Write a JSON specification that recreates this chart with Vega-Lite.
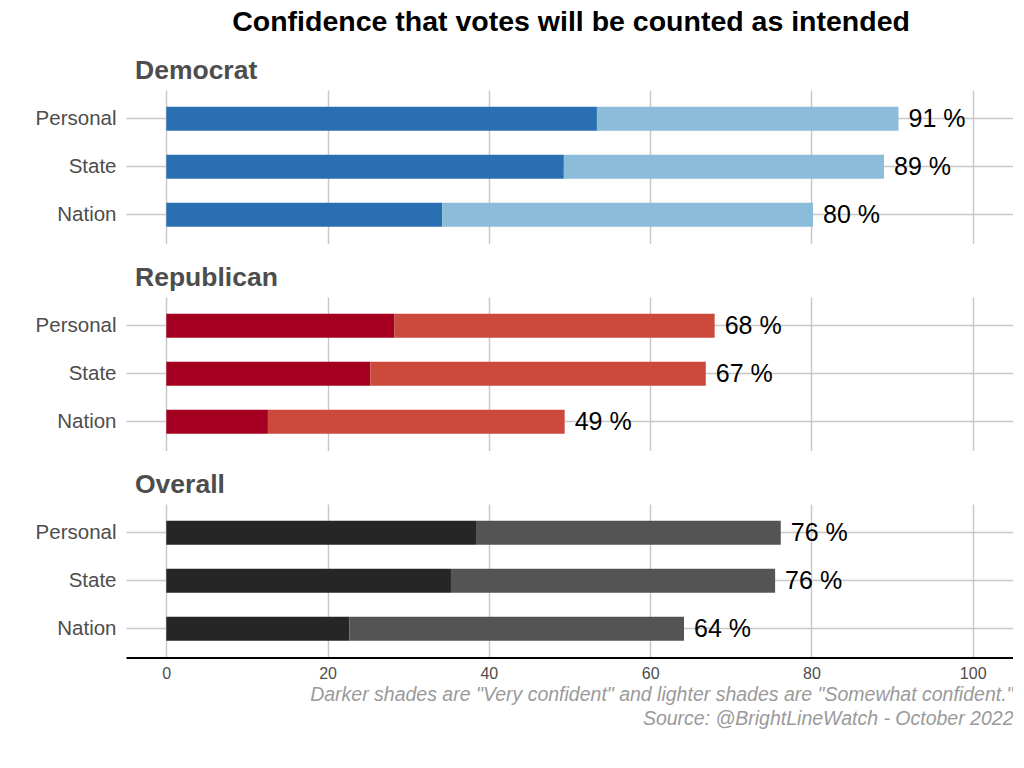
{
  "$schema": "https://vega.github.io/schema/vega-lite/v6.json",
  "background": "white",
  "padding": {"left": 35, "top": 8, "right": 0, "bottom": 0},
  "title": {"text": "Confidence that votes will be counted as intended", "fontSize": 28.5, "fontWeight": "bold", "color": "#000000", "font": "Liberation Sans", "anchor": "middle", "offset": 21, "dx": 47},
  "config": {
    "view": {"stroke": null},
    "font": "Liberation Sans",
    "axis": {"gridColor": "#c8c8c8", "gridWidth": 1.5}
  },
  "data": {"values": [
    {"group": "Democrat", "level": "Personal", "very": 53.4, "total": 90.8, "label": "91 %"},
    {"group": "Democrat", "level": "State", "very": 49.3, "total": 89.0, "label": "89 %"},
    {"group": "Democrat", "level": "Nation", "very": 34.2, "total": 80.2, "label": "80 %"},
    {"group": "Republican", "level": "Personal", "very": 28.3, "total": 68.0, "label": "68 %"},
    {"group": "Republican", "level": "State", "very": 25.3, "total": 66.9, "label": "67 %"},
    {"group": "Republican", "level": "Nation", "very": 12.6, "total": 49.4, "label": "49 %"},
    {"group": "Overall", "level": "Personal", "very": 38.5, "total": 76.2, "label": "76 %"},
    {"group": "Overall", "level": "State", "very": 35.3, "total": 75.5, "label": "76 %"},
    {"group": "Overall", "level": "Nation", "very": 22.7, "total": 64.2, "label": "64 %"}
  ]},
  "spacing": 20,
  "vconcat": [
    {
      "title": {"text": "Democrat", "anchor": "start", "frame": "group", "dx": 9, "fontSize": 26.5, "fontWeight": "bold", "color": "#4d4d4d", "baseline": "alphabetic", "offset": -15},
      "width": 887, "height": 153.6,
      "transform": [{"filter": "datum.group === 'Democrat'"}],
      "encoding": {
        "y": {"field": "level", "type": "nominal", "sort": ["Personal", "State", "Nation"], "title": null,
              "scale": {"paddingInner": 0.5, "paddingOuter": 0.35},
              "axis": {"domain": false, "ticks": false, "grid": true, "labelFontSize": 20.5, "labelColor": "#4d4d4d", "labelPadding": 10}}
      },
      "layer": [
        {"mark": {"type": "bar", "color": "#2a6fb2"},
         "encoding": {"x": {"field": "very", "type": "quantitative", "title": null, "scale": {"domain": [-5, 105], "nice": false, "zero": false},
                            "axis": {"values": [0, 20, 40, 60, 80, 100], "labels": false, "ticks": false, "domain": false, "grid": true}}}},
        {"mark": {"type": "bar", "color": "#8bbdda"},
         "encoding": {"x": {"field": "very", "type": "quantitative"}, "x2": {"field": "total"}}},
        {"mark": {"type": "text", "align": "left", "baseline": "middle", "dx": 10, "fontSize": 25, "color": "#000000"},
         "encoding": {"x": {"field": "total", "type": "quantitative"}, "text": {"field": "label"}}}
      ]
    },
    {
      "title": {"text": "Republican", "anchor": "start", "frame": "group", "dx": 9, "fontSize": 26.5, "fontWeight": "bold", "color": "#4d4d4d", "baseline": "alphabetic", "offset": -15},
      "width": 887, "height": 153.6,
      "transform": [{"filter": "datum.group === 'Republican'"}],
      "encoding": {
        "y": {"field": "level", "type": "nominal", "sort": ["Personal", "State", "Nation"], "title": null,
              "scale": {"paddingInner": 0.5, "paddingOuter": 0.35},
              "axis": {"domain": false, "ticks": false, "grid": true, "labelFontSize": 20.5, "labelColor": "#4d4d4d", "labelPadding": 10}}
      },
      "layer": [
        {"mark": {"type": "bar", "color": "#a50021"},
         "encoding": {"x": {"field": "very", "type": "quantitative", "title": null, "scale": {"domain": [-5, 105], "nice": false, "zero": false},
                            "axis": {"values": [0, 20, 40, 60, 80, 100], "labels": false, "ticks": false, "domain": false, "grid": true}}}},
        {"mark": {"type": "bar", "color": "#cb4a3c"},
         "encoding": {"x": {"field": "very", "type": "quantitative"}, "x2": {"field": "total"}}},
        {"mark": {"type": "text", "align": "left", "baseline": "middle", "dx": 10, "fontSize": 25, "color": "#000000"},
         "encoding": {"x": {"field": "total", "type": "quantitative"}, "text": {"field": "label"}}}
      ]
    },
    {
      "title": {"text": "Overall", "anchor": "start", "frame": "group", "dx": 9, "fontSize": 26.5, "fontWeight": "bold", "color": "#4d4d4d", "baseline": "alphabetic", "offset": -15},
      "width": 887, "height": 153.6,
      "transform": [{"filter": "datum.group === 'Overall'"}],
      "encoding": {
        "y": {"field": "level", "type": "nominal", "sort": ["Personal", "State", "Nation"], "title": null,
              "scale": {"paddingInner": 0.5, "paddingOuter": 0.35},
              "axis": {"domain": false, "ticks": false, "grid": true, "labelFontSize": 20.5, "labelColor": "#4d4d4d", "labelPadding": 10}}
      },
      "layer": [
        {"mark": {"type": "bar", "color": "#262626"},
         "encoding": {"x": {"field": "very", "type": "quantitative", "title": ["Darker shades are \"Very confident\" and lighter shades are \"Somewhat confident.\"", "Source: @BrightLineWatch - October 2022"], "scale": {"domain": [-5, 105], "nice": false, "zero": false},
                            "axis": {"values": [0, 20, 40, 60, 80, 100], "labels": true, "ticks": false, "domain": true, "domainColor": "#000000", "domainWidth": 2, "grid": true, "labelFontSize": 16, "labelColor": "#4d4d4d", "labelPadding": 8,
                                     "titleAnchor": "end", "titleAlign": "right", "titleFontSize": 19.5, "titleFontStyle": "italic", "titleFontWeight": "normal", "titleColor": "#9a9a9a", "titleLineHeight": 24, "titlePadding": 4}}}},
        {"mark": {"type": "bar", "color": "#545454"},
         "encoding": {"x": {"field": "very", "type": "quantitative"}, "x2": {"field": "total"}}},
        {"mark": {"type": "text", "align": "left", "baseline": "middle", "dx": 10, "fontSize": 25, "color": "#000000"},
         "encoding": {"x": {"field": "total", "type": "quantitative"}, "text": {"field": "label"}}}
      ]
    }
  ]
}
